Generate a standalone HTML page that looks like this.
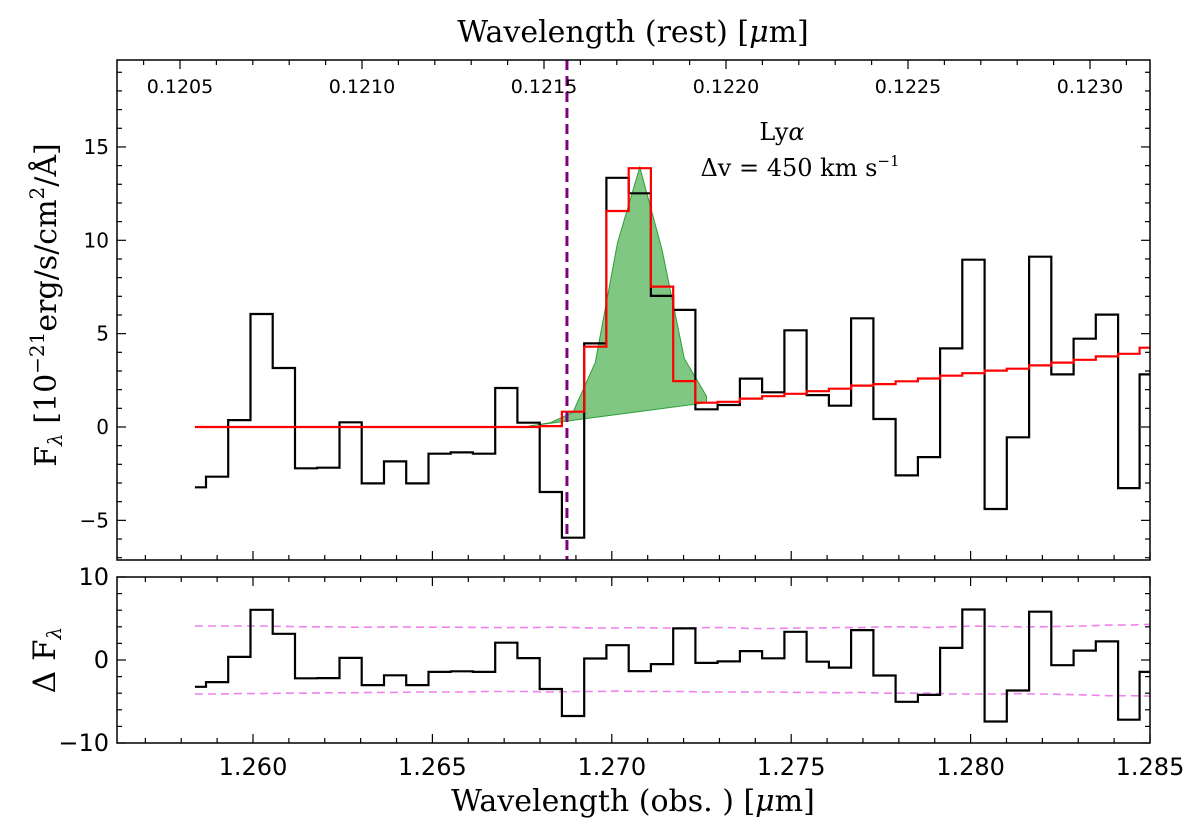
<!DOCTYPE html>
<html><head><meta charset="utf-8"><style>
body{margin:0;background:#fff}
svg text{font-family:"DejaVu Sans","Liberation Sans",sans-serif}
.serif{font-family:"DejaVu Serif","Liberation Serif",serif}
</style></head><body>
<svg id="chart" width="1200" height="832" viewBox="0 0 1200 832" xmlns="http://www.w3.org/2000/svg">
</svg>
<script>
const wavelengths = [1.25838,1.2590,1.25962,1.26024,1.26086,1.26148,1.2621,1.26272,1.26334,1.26396,1.26458,1.2652,1.26582,1.26644,1.26706,1.26768,1.2683,1.26892,1.26954,1.27016,1.27078,1.2714,1.27202,1.27264,1.27326,1.27388,1.2745,1.27512,1.27574,1.27636,1.27698,1.2776,1.27822,1.27884,1.27946,1.28008,1.2807,1.28132,1.28194,1.28256,1.28318,1.2838,1.28442,1.285];
const flux = [-3.23,-2.66,0.37,6.05,3.16,-2.21,-2.18,0.25,-3.02,-1.84,-3.02,-1.43,-1.36,-1.43,2.09,0.23,-3.48,-5.93,4.48,13.35,12.52,7.02,6.27,0.95,1.18,2.59,1.86,5.18,1.71,1.14,5.82,0.43,-2.59,-1.61,4.21,8.96,-4.39,-0.55,9.12,2.82,4.73,6.02,-3.27,2.82];
const model = [0,0,0,0,0,0,0,0,0,0,0,0,0,0,0,0,0.05,0.82,4.3,11.57,13.86,7.52,2.46,1.3,1.35,1.52,1.65,1.78,1.92,2.05,2.22,2.3,2.45,2.6,2.75,2.88,3.02,3.12,3.3,3.45,3.6,3.78,3.92,4.25];
const residual = [-3.23,-2.66,0.37,6.05,3.16,-2.21,-2.18,0.25,-3.02,-1.84,-3.02,-1.43,-1.36,-1.43,2.09,0.23,-3.5,-6.75,0.18,1.78,-1.34,-0.5,3.81,-0.35,-0.17,1.07,0.21,3.4,-0.21,-0.91,3.6,-1.87,-5.04,-4.21,1.46,6.08,-7.41,-3.67,5.82,-0.63,1.13,2.24,-7.19,-1.43];
const errUpper = [4.1,4.1,4.1,4.1,4.05,4.0,4.0,3.95,3.95,4.0,3.95,3.95,3.95,3.9,3.9,3.9,3.95,3.9,3.85,3.85,3.9,3.85,3.85,3.9,3.9,3.8,3.8,3.85,3.85,3.9,3.9,4.0,4.0,3.9,4.0,4.1,4.05,4.0,4.0,4.05,4.1,4.2,4.2,4.3];
const errLower = [-4.1,-4.1,-4.05,-4.05,-4.0,-4.0,-3.95,-3.95,-3.9,-3.9,-3.85,-3.85,-3.85,-3.8,-3.8,-3.8,-3.85,-3.8,-3.8,-3.75,-3.8,-3.8,-3.8,-3.85,-3.85,-3.85,-3.85,-3.9,-3.9,-3.95,-3.9,-4.0,-4.0,-4.0,-4.1,-4.1,-4.1,-4.05,-4.1,-4.15,-4.2,-4.3,-4.3,-4.35];
const lineFit = [1.27075, 13.1, 0.00070]; // center (um), amplitude, sigma
const fillStart = [1.26768, 0.05];
const fillEnd = [1.27264, 1.30];
const fillWaves = [1.26768,1.2683,1.26892,1.26954,1.27016,1.27078,1.2714,1.27202,1.27264];
const lyaObs = [1.26875];
const xTicks = [1.260,1.265,1.270,1.275,1.280,1.285];
const xTickLabels = ["1.260","1.265","1.270","1.275","1.280","1.285"];
const yTopTicks = [-5,0,5,10,15];
const yBotTicks = [-10,0,10];
const restTicks = [0.1205,0.1210,0.1215,0.1220,0.1225,0.1230];
const restTickLabels = ["0.1205","0.1210","0.1215","0.1220","0.1225","0.1230"];

const NS="http://www.w3.org/2000/svg";
const svg=document.getElementById('chart');
const L=117,R=1150,T1=60,B1=560,T2=577,B2=743;
const X=w=>253+(w-1.260)/0.005*179.4;
const XR=r=>180+(r-0.1205)/0.0005*182;
const Y1=v=>427-v*18.67;
const Y2=v=>660-v*8.3;
function mk(tag,attrs,parent){const e=document.createElementNS(NS,tag);for(const k in attrs)e.setAttribute(k,attrs[k]);(parent||svg).appendChild(e);return e;}
function stepPath(xs,ys,fx,fy){let d='';for(let i=0;i<xs.length;i++){const x=fx(xs[i]),y=fy(ys[i]);
 const xl=i==0?x:(fx(xs[i-1])+x)/2, xr=i==xs.length-1?x:(x+fx(xs[i+1]))/2;
 d+=(i==0?'M':'L')+xl.toFixed(1)+','+y.toFixed(1)+' L'+xr.toFixed(1)+','+y.toFixed(1)+' ';}return d;}
function linePath(xs,ys,fx,fy){return xs.map((x,i)=>(i?'L':'M')+fx(x).toFixed(1)+','+fy(ys[i]).toFixed(1)).join(' ');}

const defs=mk('defs',{});
const c1=mk('clipPath',{id:'c1'},defs);mk('rect',{x:L,y:T1,width:R-L,height:B1-T1},c1);
const c2=mk('clipPath',{id:'c2'},defs);mk('rect',{x:L,y:T2,width:R-L,height:B2-T2},c2);

const g1=mk('g',{'clip-path':'url(#c1)'});


let pts=[];
const cont=w=>fillStart[1]+(fillEnd[1]-fillStart[1])*(w-fillStart[0])/(fillEnd[0]-fillStart[0]);
fillWaves.forEach(w=>{const g=lineFit[1]*Math.exp(-0.5*Math.pow((w-lineFit[0])/lineFit[2],2));
 pts.push(X(w).toFixed(1)+','+Y1(cont(w)+g).toFixed(1));});
pts.push(X(fillEnd[0]).toFixed(1)+','+Y1(fillEnd[1]).toFixed(1));
pts.push(X(fillStart[0]).toFixed(1)+','+Y1(fillStart[1]).toFixed(1));
const gf=mk('polygon',{points:pts.join(' '),fill:'#4caf50','fill-opacity':0.7,stroke:'#2e9e3a','stroke-width':1},g1);


const dp=mk('path',{d:stepPath(wavelengths,flux,X,Y1),fill:'none',stroke:'#000','stroke-width':2.2},g1);


const mp=mk('path',{d:stepPath(wavelengths,model,X,Y1),fill:'none',stroke:'#ff0000','stroke-width':2.2},g1);


const vl=mk('line',{x1:X(lyaObs[0]),x2:X(lyaObs[0]),y1:T1,y2:B1,stroke:'#800080','stroke-width':3,'stroke-dasharray':'10,6'});



const g2=mk('g',{'clip-path':'url(#c2)'});


const eu=mk('path',{d:linePath(wavelengths,errUpper,X,Y2),fill:'none',stroke:'#ee82ee','stroke-width':1.6,'stroke-dasharray':'8,5'},g2);


const el=mk('path',{d:linePath(wavelengths,errLower,X,Y2),fill:'none',stroke:'#ee82ee','stroke-width':1.6,'stroke-dasharray':'8,5'},g2);


const rp=mk('path',{d:stepPath(wavelengths,residual,X,Y2),fill:'none',stroke:'#000','stroke-width':2.2},g2);



const f1=mk('rect',{x:L,y:T1,width:R-L,height:B1-T1,fill:'none',stroke:'#000','stroke-width':1.5});


const f2=mk('rect',{x:L,y:T2,width:R-L,height:B2-T2,fill:'none',stroke:'#000','stroke-width':1.5});



const tg=mk('g',{stroke:'#000','stroke-width':1.2});


for(let m=1.257;m<=1.2851;m+=0.001){const x=X(m);if(x<L||x>R)continue;
 const major=Math.abs(Math.round(m*200)-m*200)<1e-6;const len=major?9:5;
 mk('line',{x1:x,x2:x,y1:B1,y2:B1-len},tg);
 mk('line',{x1:x,x2:x,y1:T2,y2:T2+len},tg);mk('line',{x1:x,x2:x,y1:B2,y2:B2-len},tg);}
for(let r=0.1204;r<=0.12315;r+=0.0001){const x=XR(r);if(x<L||x>R)continue;
 const major=Math.abs(Math.round(r*2000)-r*2000)<1e-6;mk('line',{x1:x,x2:x,y1:T1,y2:T1+(major?9:5)},tg);}
for(let v=-7;v<=19;v++){const y=Y1(v);const major=v%5==0;const len=major?9:5;
 mk('line',{x1:L,x2:L+len,y1:y,y2:y},tg);mk('line',{x1:R,x2:R-len,y1:y,y2:y},tg);}
for(let v=-10;v<=10;v+=2){const y=Y2(v);const major=v%10==0;const len=major?9:5;
 mk('line',{x1:L,x2:L+len,y1:y,y2:y},tg);mk('line',{x1:R,x2:R-len,y1:y,y2:y},tg);}

function txt(s,attrs,name){const t=mk('text',attrs);t.textContent=s;return t;}
xTicks.forEach((v,i)=>txt(xTickLabels[i],{x:X(v),y:775,'font-size':24,'text-anchor':'middle'},'x-tick-label'));
restTicks.forEach((v,i)=>txt(restTickLabels[i],{x:XR(v),y:93,'font-size':19,'text-anchor':'middle'},'rest-tick-label'));
yTopTicks.forEach(v=>txt(String(v).replace('-','\u2212'),{x:109,y:Y1(v)+7,'font-size':20,'text-anchor':'end'},'y-tick-label'));
yBotTicks.forEach(v=>txt(String(v).replace('-','\u2212'),{x:109,y:Y2(v)+8,'font-size':24,'text-anchor':'end'},'residual-y-tick-label'));
</script>
<div style="position:absolute;left:0;top:0;width:1200px;height:832px;pointer-events:none">
<svg width="1200" height="832" xmlns="http://www.w3.org/2000/svg">
<text class="serif" x="633" y="42" font-size="30" text-anchor="middle">Wavelength (rest) [<tspan font-style="italic">μ</tspan>m]</text>
<text class="serif" x="633" y="811" font-size="30" text-anchor="middle">Wavelength (obs. ) [<tspan font-style="italic">μ</tspan>m]</text>
<text class="serif" transform="translate(56,305) rotate(-90)" font-size="30" text-anchor="middle">F<tspan font-size="20" dy="6" font-style="italic">λ</tspan><tspan dy="-6"> [10</tspan><tspan font-size="20" dy="-12">−21</tspan><tspan dy="12">erg/s/cm</tspan><tspan font-size="20" dy="-12">2</tspan><tspan dy="12">/Å]</tspan></text>
<text class="serif" transform="translate(55,660) rotate(-90)" font-size="31" text-anchor="middle">Δ F<tspan font-size="20" dy="6" font-style="italic">λ</tspan></text>
<text class="serif" x="782" y="140" font-size="24" text-anchor="middle">Ly<tspan font-style="italic">α</tspan></text>
<text class="serif" x="800" y="176" font-size="24" text-anchor="middle">Δv = 450 km s<tspan font-size="15" dy="-10">−1</tspan></text>
</svg></div>
</body></html>
